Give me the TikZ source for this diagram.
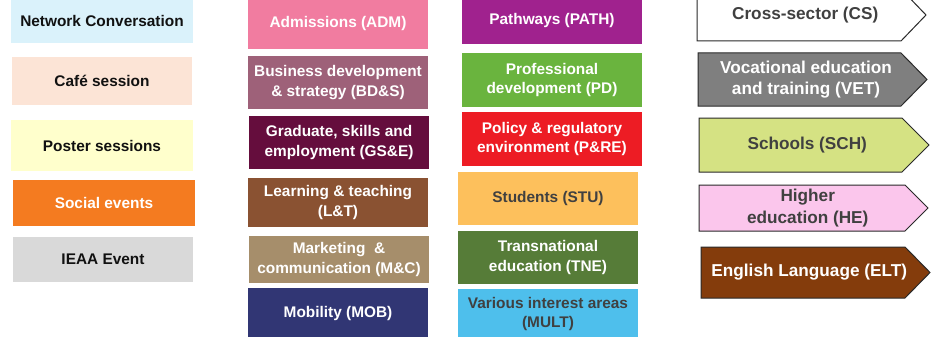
\documentclass[tikz,border=0pt]{standalone}
\usepackage{fontspec}
\setmainfont{Liberation Sans}
\definecolor{cNC}{HTML}{DAF2FB}
\definecolor{cCafe}{HTML}{FCE4D6}
\definecolor{cPoster}{HTML}{FFFFCC}
\definecolor{cSocial}{HTML}{F47B20}
\definecolor{cIEAA}{HTML}{D9D9D9}
\definecolor{cADM}{HTML}{F17CA0}
\definecolor{cBDS}{HTML}{9E6179}
\definecolor{cGSE}{HTML}{650D3D}
\definecolor{cLT}{HTML}{8A5232}
\definecolor{cMC}{HTML}{A68E6B}
\definecolor{cMOB}{HTML}{313674}
\definecolor{cPATH}{HTML}{A0228E}
\definecolor{cPD}{HTML}{6AB43E}
\definecolor{cPRE}{HTML}{ED1C24}
\definecolor{cSTU}{HTML}{FDC05C}
\definecolor{cTNE}{HTML}{567C38}
\definecolor{cMULT}{HTML}{4EBFEC}
\definecolor{cVET}{HTML}{7F7F7F}
\definecolor{cSCH}{HTML}{D5E283}
\definecolor{cHE}{HTML}{FBC6EC}
\definecolor{cELT}{HTML}{843C0C}
\definecolor{dark}{HTML}{111111}
\definecolor{dgray}{HTML}{404040}
\definecolor{edge}{HTML}{2A2A2A}
\tikzset{
  box/.style={rectangle, draw=none, inner sep=0pt, align=center,
    font=\fontsize{15.4}{19.5}\selectfont\bfseries},
  lbl/.style={inner sep=0pt, align=center,
    font=\fontsize{17.2}{21.5}\selectfont\bfseries},
  tag/.style={draw=edge, line width=1pt}
}
\newcommand\mkbox[8]{%
  \node[box, fill=#6, text=#7, minimum width={(#4-#2)*1pt}, minimum height={(#5-#3)*1pt}]
    (#1) at ({(#2+#4)/2},{-(#3+#5)/2}) {#8};}
% name, x1, y1, xbody, xtip, y2, fill, textcolor, text
\newcommand\mkarrow[9]{%
  \path[tag, fill=#7] (#2,-#3) -- (#4,-#3) -- (#5,{-(#3+#6)/2}) -- (#4,-#6) -- (#2,-#6) -- cycle;
  \node[lbl, text=#8] (#1) at ({(#2+(#4+#5)/2)/2},{-(#3+#6)/2}) {#9};}
\begin{document}
\begin{tikzpicture}[x=1pt,y=1pt]
\useasboundingbox[fill=white] (0,0) rectangle (935,-337);
% column 1
\mkbox{nc}{11}{-2}{193}{43}{cNC}{dark}{Network Conversation}
\mkbox{cafe}{12}{57}{192}{105}{cCafe}{dark}{Café session}
\mkbox{poster}{11}{120}{193}{171}{cPoster}{dark}{Poster sessions}
\mkbox{social}{13}{180}{195}{226}{cSocial}{white}{Social events}
\mkbox{ieaa}{13}{237}{193}{282}{cIEAA}{dark}{IEAA Event}
% column 2
\mkbox{adm}{248}{-2}{428}{49}{cADM}{white}{Admissions (ADM)}
\mkbox{bds}{248}{56}{428}{109}{cBDS}{white}{Business development\\\& strategy (BD\&S)}
\mkbox{gse}{249}{116}{429}{169}{cGSE}{white}{Graduate, skills and\\employment (GS\&E)}
\mkbox{lt}{248}{178}{428}{227}{cLT}{white}{Learning \& teaching\\(L\&T)}
\mkbox{mc}{249}{236}{429}{283}{cMC}{white}{Marketing~ \&\\communication (M\&C)}
\mkbox{mob}{248}{288}{428}{339}{cMOB}{white}{Mobility (MOB)}
% column 3
\mkbox{path}{462}{-2}{642}{44}{cPATH}{white}{Pathways (PATH)}
\mkbox{pd}{462}{53}{642}{107}{cPD}{white}{Professional\\development (PD)}
\mkbox{pre}{462}{112}{642}{166}{cPRE}{white}{Policy \& regulatory\\environment (P\&RE)}
\mkbox{stu}{458}{172}{638}{225}{cSTU}{dgray}{Students (STU)}
\mkbox{tne}{458}{231}{638}{284}{cTNE}{white}{Transnational\\education (TNE)}
\mkbox{mult}{458}{289}{638}{339}{cMULT}{dgray}{Various interest areas\\(MULT)}
% column 4
\mkarrow{cs}{697}{-11}{901}{926}{41}{white}{dgray}{Cross-sector (CS)}
\mkarrow{vet}{698}{53}{901}{927}{106}{cVET}{white}{Vocational education\\and training (VET)}
\mkarrow{sch}{699}{118}{902}{929}{172}{cSCH}{dgray}{Schools (SCH)}
\mkarrow{he}{699}{185}{905}{928}{231}{cHE}{dgray}{Higher\\education (HE)}
\mkarrow{elt}{701}{247}{905}{930}{298}{cELT}{white}{English Language (ELT)}
\end{tikzpicture}
\end{document}
